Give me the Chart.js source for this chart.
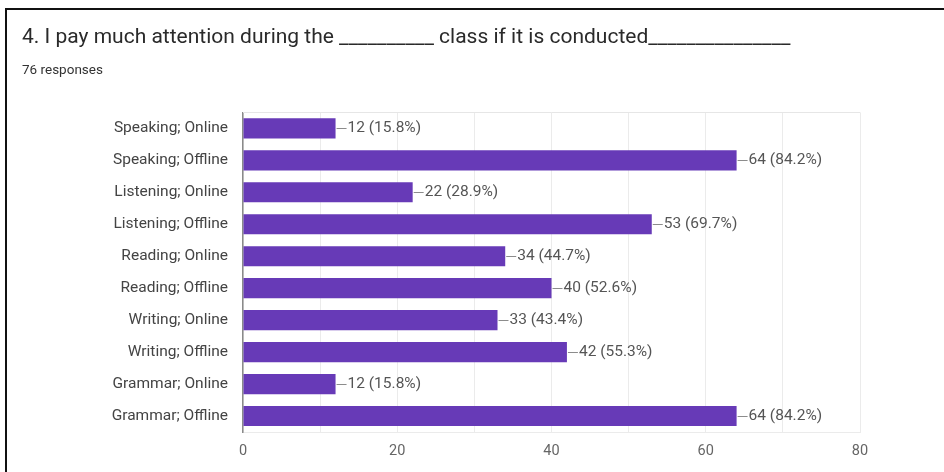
<!DOCTYPE html>
<html lang="en">
<head>
    <meta charset="UTF-8">
    <title>Attention survey</title>
    <script src="https://cdn.jsdelivr.net/npm/chart.js"></script>
    <style>
        body { margin: 0; background: #fff; }
        #wrap { position: relative; width: 944px; height: 472px; }
        #frame {
            position: absolute; left: 5px; top: 8px; right: 0; bottom: 0;
            border-top: 2px solid #111; border-left: 2px solid #111;
            pointer-events: none;
        }
    </style>
</head>
<body>
<div id="wrap">
    <canvas id="surveyChart" width="944" height="472"></canvas>
    <div id="frame"></div>
</div>

<script>
    const categories = [
        'Speaking; Online', 'Speaking; Offline',
        'Listening; Online', 'Listening; Offline',
        'Reading; Online', 'Reading; Offline',
        'Writing; Online', 'Writing; Offline',
        'Grammar; Online', 'Grammar; Offline'
    ];
    const responses = [12, 64, 22, 53, 34, 40, 33, 42, 12, 64];
    const totalResponses = 76;
    const xTickLabels = [0, 20, 40, 60, 80];

    const titleText = '4. I pay much attention during the __________ class if it is conducted_______________';
    const subtitleText = totalResponses + ' responses';

    // "—12 (15.8%)" style labels at the end of every bar
    const valueLabels = {
        id: 'valueLabels',
        afterDatasetsDraw(chart) {
            const ctx = chart.ctx;
            const xScale = chart.scales.x;
            const meta = chart.getDatasetMeta(0);
            ctx.save();
            ctx.font = '15.5px Roboto';
            ctx.textBaseline = 'middle';
            ctx.textAlign = 'left';
            meta.data.forEach((bar, i) => {
                const v = responses[i];
                const x = xScale.getPixelForValue(v);
                const y = bar.y;
                ctx.strokeStyle = '#8c8c8c';
                ctx.lineWidth = 1;
                ctx.beginPath();
                ctx.moveTo(x + 1, Math.round(y) + 0.5);
                ctx.lineTo(x + 11, Math.round(y) + 0.5);
                ctx.stroke();
                const pct = (v / totalResponses * 100).toFixed(1);
                ctx.fillStyle = '#555';
                ctx.fillText(v + ' (' + pct + '%)', x + 12, y);
            });
            ctx.restore();
        }
    };

    // light line along the top of the plot area
    const topBorder = {
        id: 'topBorder',
        beforeDatasetsDraw(chart) {
            const a = chart.chartArea;
            const ctx = chart.ctx;
            ctx.save();
            ctx.strokeStyle = '#e6e6e6';
            ctx.lineWidth = 1;
            ctx.beginPath();
            ctx.moveTo(a.left, Math.round(a.top) + 0.5);
            ctx.lineTo(a.right, Math.round(a.top) + 0.5);
            ctx.stroke();
            ctx.restore();
        }
    };

    new Chart(document.getElementById('surveyChart'), {
        type: 'bar',
        data: {
            labels: categories,
            datasets: [{
                data: responses,
                backgroundColor: '#673ab7',
                borderWidth: 0,
                barPercentage: 0.63,
                categoryPercentage: 1
            }]
        },
        options: {
            indexAxis: 'y',
            responsive: false,
            animation: false,
            layout: { padding: { left: 22, right: 84, top: 0, bottom: 0 } },
            plugins: {
                legend: { display: false },
                tooltip: { enabled: false },
                title: {
                    display: true,
                    text: titleText,
                    align: 'start',
                    color: '#2a2a2a',
                    font: { family: 'Roboto', size: 21, weight: 'normal', lineHeight: 1.2 },
                    padding: { top: 25, bottom: 0 }
                },
                subtitle: {
                    display: true,
                    text: subtitleText,
                    align: 'start',
                    color: '#333',
                    font: { family: 'Roboto', size: 13.5, lineHeight: 1.2 },
                    padding: { top: 12, bottom: 34 }
                }
            },
            scales: {
                x: {
                    min: 0,
                    max: 80,
                    ticks: {
                        stepSize: 10,
                        padding: 11,
                        color: '#666',
                        font: { family: 'Roboto', size: 14.5 },
                        callback: v => xTickLabels.includes(v) ? v : ''
                    },
                    grid: { color: '#ebebeb', drawTicks: false },
                    border: { display: true, color: '#ebebeb' },
                    afterFit: s => { s.height = 40; }
                },
                y: {
                    ticks: {
                        padding: 15,
                        color: '#444',
                        font: { family: 'Roboto', size: 15.5 }
                    },
                    grid: { display: false, drawTicks: false },
                    border: { display: true, color: '#8a8a8a', width: 1.5 },
                    afterFit: s => { s.width = 221; }
                }
            }
        },
        plugins: [valueLabels, topBorder]
    });
</script>
</body>
</html>
